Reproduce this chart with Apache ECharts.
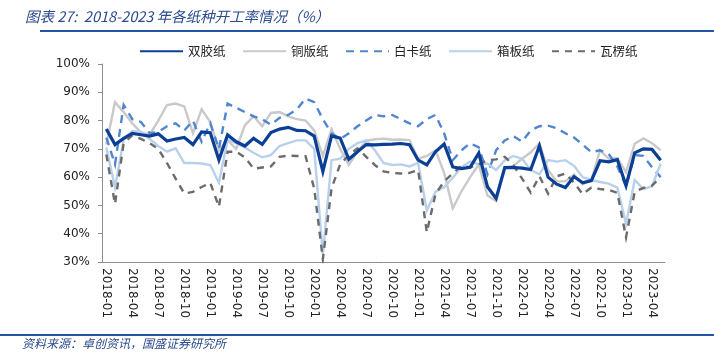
<!DOCTYPE html>
<html><head><meta charset="utf-8">
<script src="https://cdn.jsdelivr.net/npm/echarts@6/dist/echarts.min.js"></script>
<style>html,body{margin:0;padding:0;background:#fff}#c{width:714px;height:361px}</style>
</head><body><div id="c"></div>
<script>
// Categories: monthly, 2018-01 .. 2023-05
const startYear = 2018, monthCount = 65;
const categories = [];
for (let k = 0; k < monthCount; k++) {
  const y = startYear + Math.floor(k / 12), m = (k % 12) + 1;
  categories.push(y + '-' + (m < 10 ? '0' + m : m));
}
const seriesNames = ['双胶纸', '铜版纸', '白卡纸', '箱板纸', '瓦楞纸'];
const yTicks = [30, 40, 50, 60, 70, 80, 90, 100];

const shuangjiao = [77,71.5,73.7,75.5,75,74.5,75.3,72.8,73.5,74,71.5,76,75.7,66.1,74.9,72.5,71,73.7,71.6,75.8,77,77.6,76.5,76.4,74.5,62,74.6,73.8,66.3,69,71.5,71.4,71.6,71.7,71.9,71.5,66,64.3,69,71.7,63.6,63,63.5,68.5,56.6,52.5,63.4,63.4,63.2,62.7,71,60,57.5,56.3,60.2,58,58.8,65.8,65.4,66.2,57,68.6,70,69.8,66];
const tongban = [71.5,86.5,83,79,75.8,75,80,85.5,86,85,75.5,84,79.5,69.5,73,70,78.4,81.5,78,82.7,83,81.5,80.5,80,76.5,67.5,77,70,64.3,69,72.8,73.4,73.6,73.2,73.3,73.1,66.5,67.5,69.5,61.5,49,55,60,64.5,53.5,51.5,63.5,64,66.5,68.8,72,62.5,58.5,58.5,61,57.5,59,69.5,66.5,66.7,61.8,71.8,73.7,72,69.5];
const baika = [74,64.5,85.5,80.5,79.5,75.5,76,78,79,76.5,80,72.5,79,70,86,84.5,83,81.5,80.5,78.5,81,82,84,87.8,86.5,80.5,75.5,73.5,75.5,78,80,82,81.5,82,80.5,79,78,80.5,82,75.5,66,69.5,72,70.5,61,69.5,73,74.5,72.5,76.5,78,78.2,77.3,75.5,74,71.5,68.8,69.5,68.2,63.8,56.8,67.8,67.5,63.5,60];
const xiangban = [70.5,56.3,73.2,76.3,76,73.5,71,69,70.2,65,65,64.8,64.3,58,73.2,72,70.5,68.6,67,67.8,71,72,73,73,70,32.5,66,66.5,70,72,73,69.5,65,64.3,64.5,63.8,65,48.2,54.8,56.5,59.8,63.5,65.5,64.5,64.8,62.5,66,67.5,66.5,62.5,61,66,65.5,66,64,60,59,58.3,57.7,56.3,43.5,59,55.8,56.8,64.8];
const waleng = [68,50.5,72,74.8,73.5,72,70,65,59.5,54.2,54.8,56.5,58,49.5,69,69,67,63,63.4,63.8,67.2,67.6,67.5,67.4,56,31,56,64.6,67.8,70.2,67.2,64.3,62,61.5,61.3,61.5,62.5,40.5,54,58.5,61.3,64,63.5,64.5,66,66.3,67.2,64.2,59.5,54.5,60.3,54.2,60.3,61.3,58,54,56.3,55.8,55.5,54.5,38.7,54.8,56.2,57,60];

const colors = ['#0b3f95', '#c9c9c9', '#4f86cf', '#b9d0ec', '#6b6b6b'];
const styles = [
  {width: 3.2, type: 'solid', z: 10},
  {width: 2.4, type: 'solid', z: 3},
  {width: 2.4, type: [8, 6], z: 4},
  {width: 2.4, type: 'solid', z: 5},
  {width: 2.4, type: [7, 6], z: 6}
];
const datas = [shuangjiao, tongban, baika, xiangban, waleng];

const chart = echarts.init(document.getElementById('c'), null, {renderer: 'canvas'});
chart.setOption({
  animation: false,
  backgroundColor: '#fff',
  title: {
    text: '图表 27:  2018-2023 年各纸种开工率情况（%）',
    left: 20, top: 4,
    textStyle: {color: '#2a4a8e', fontSize: 14.5, fontStyle: 'italic', fontWeight: 'normal',
      fontFamily: 'Noto Sans CJK SC'}
  },
  legend: {
    data: seriesNames,
    left: 134, top: 40, width: 570, orient: 'horizontal',
    itemWidth: 43, itemHeight: 14, itemGap: 16.5,
    itemStyle: {opacity: 0},
    textStyle: {fontSize: 12.5, color: '#222', fontFamily: 'Noto Sans CJK SC'}
  },
  grid: {left: 102, right: 49, top: 64, bottom: 99, containLabel: false},
  xAxis: {
    type: 'category', data: categories, boundaryGap: true,
    axisLine: {lineStyle: {color: '#8c8c8c', width: 1}},
    axisTick: {interval: 2, length: 4, lineStyle: {color: '#8c8c8c'}},
    axisLabel: {interval: 2, rotate: -90, margin: 6, fontSize: 12, color: '#222', fontFamily: 'DejaVu Sans'}
  },
  yAxis: {
    type: 'value', min: yTicks[0], max: yTicks[yTicks.length - 1], interval: 10,
    splitLine: {show: false},
    axisLine: {show: true, lineStyle: {color: '#8c8c8c', width: 1}},
    axisTick: {show: true, length: 4, lineStyle: {color: '#8c8c8c'}},
    axisLabel: {formatter: '{value}%', fontSize: 12, color: '#222', margin: 12, fontFamily: 'DejaVu Sans'}
  },
  series: seriesNames.map((n, k) => ({
    name: n, type: 'line', data: datas[k], showSymbol: false, symbol: 'none',
    z: styles[k].z,
    itemStyle: {color: colors[k]},
    lineStyle: {color: colors[k], width: styles[k].width, type: styles[k].type, cap: 'butt', join: 'miter'}
  })),
  graphic: [
    {type: 'line', shape: {x1: 40, y1: 31, x2: 714, y2: 31}, style: {stroke: '#2656a3', lineWidth: 2}},
    {type: 'line', shape: {x1: 0, y1: 335, x2: 714, y2: 335}, style: {stroke: '#2656a3', lineWidth: 2}},
    {type: 'text', left: 22, top: 337, style: {text: '资料来源：卓创资讯，国盛证券研究所',
      fill: '#2a4a8e', fontSize: 12, fontStyle: 'italic', fontFamily: 'Noto Sans CJK SC'}}
  ]
});
</script></body></html>
